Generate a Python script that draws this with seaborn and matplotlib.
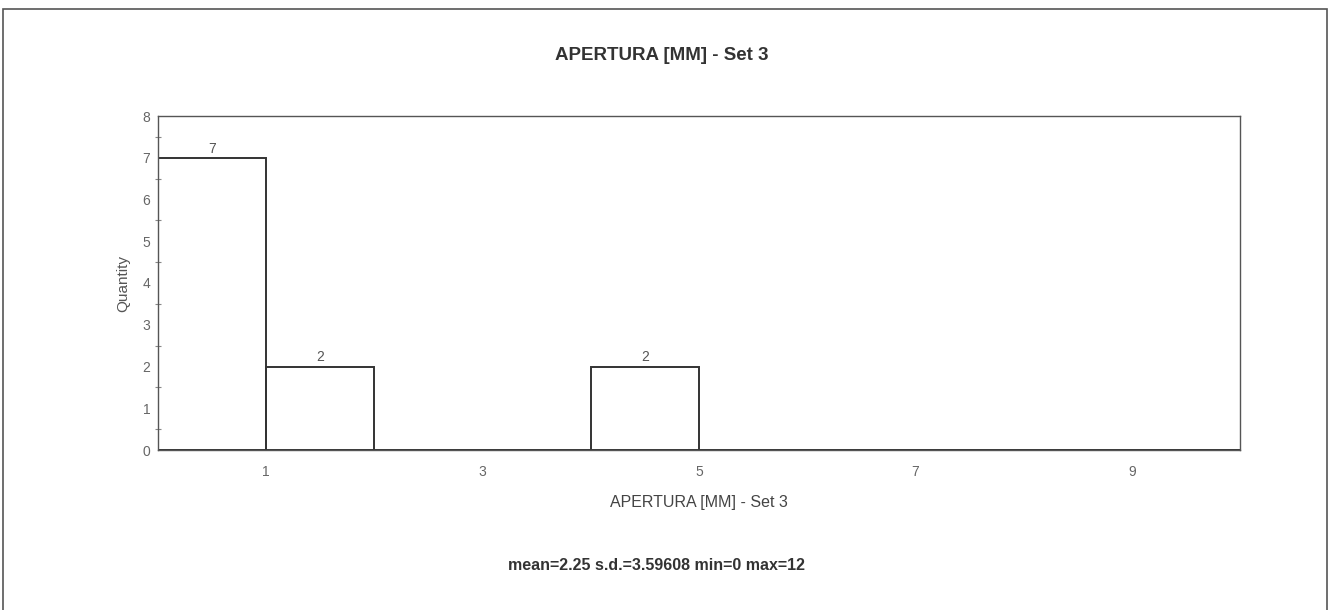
import matplotlib
matplotlib.use("Agg")
import matplotlib.pyplot as plt
import seaborn as sns
import numpy as np
from matplotlib.patches import Rectangle

bin_edges = [0, 1, 2, 3, 4, 5, 6, 7, 8, 9, 10]
counts = [7, 2, 0, 0, 2, 0, 0, 0, 0, 0]
x_ticks = [1, 3, 5, 7, 9]
y_ticks = [0, 1, 2, 3, 4, 5, 6, 7, 8]
title = "APERTURA [MM] - Set 3"
xlabel = "APERTURA [MM] - Set 3"
ylabel = "Quantity"
stats = "mean=2.25 s.d.=3.59608 min=0 max=12"

sns.set_style("white")
plt.rcParams['font.family'] = ['Liberation Sans', 'DejaVu Sans']

centers = [(a + b) / 2 for a, b in zip(bin_edges[:-1], bin_edges[1:])]

fig = plt.figure(figsize=(13.32, 6.10), dpi=100)
ax = fig.add_axes([158/1332, 1-450/610, (1240-158)/1332, (450-116)/610])

sns.histplot(x=centers, weights=counts, bins=bin_edges, fill=False,
             element="bars", color="#333333", linewidth=1.4, ax=ax)

for c, n in zip(centers, counts):
    if n > 0:
        ax.text(c, n + 0.05, str(n), ha="center", va="bottom", fontsize=10, color="#555555")

ax.set_xlim(0, 10)
ax.set_ylim(0, 8)
ax.set_xticks(x_ticks)
ax.set_yticks(y_ticks)
ax.set_yticks(np.arange(0.5, 8, 1.0), minor=True)
ax.tick_params(axis="both", which="major", direction="inout", length=5, width=0.8,
               colors="#888888", labelcolor="#666666", labelsize=10, pad=8)
ax.tick_params(axis="y", which="minor", direction="inout", length=4, width=0.8,
               colors="#888888", left=True)
ax.tick_params(axis="y", pad=3)
for s in ax.spines.values():
    s.set_color("#555555")
    s.set_linewidth(1.0)
    s.set_visible(True)

ax.set_xlabel(xlabel, fontsize=11.5, color="#444444", labelpad=12)
ax.set_ylabel(ylabel, fontsize=11, color="#555555", labelpad=9)

fig.text(662/1332, 1-55/610, title, ha="center", va="center", fontsize=13.5,
         fontweight="bold", color="#333333")
fig.text(656/1332, 1-566/610, stats, ha="center", va="center", fontsize=11.5,
         fontweight="bold", color="#333333")

fig.patches.append(Rectangle((3/1332, -0.05), (1327-3)/1332, 1.05 - 9/610,
                             transform=fig.transFigure, fill=False,
                             edgecolor="#555555", linewidth=1.2))

fig.savefig("out.png", dpi=100, facecolor="white")
